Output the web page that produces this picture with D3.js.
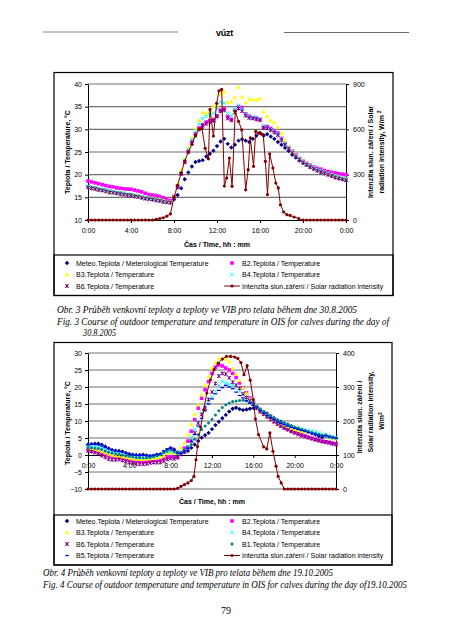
<!DOCTYPE html>
<html><head><meta charset="utf-8">
<script src="https://cdn.jsdelivr.net/npm/d3@7"></script>
<style>
body{margin:0;background:#fff}
svg{display:block}
text{font-family:"Liberation Sans",Arial,sans-serif}
text.serif{font-family:"Liberation Serif","Times New Roman",serif}
</style>
</head><body>
<svg id="c" width="452" height="640"></svg>
<script>
// ---------- DATA ----------
const xTickLabels = ["0:00","4:00","8:00","12:00","16:00","20:00","0:00"];
const xTickMinutes = [0,240,480,720,960,1200,1440];
const times = d3.range(0, 1441, 20); // sample times in minutes (every 20 min)

// Fig. 3 — 30.8.2005
const meteo1 = [17.3,17.1,17.0,16.8,16.7,16.5,16.3,16.2,16.0,15.9,15.8,15.6,
 15.5,15.4,15.2,15.0,14.9,14.8,14.6,14.5,14.4,14.2,14.0,13.9,
 14.5,15.5,17.0,19.0,20.5,21.8,22.8,23.0,23.2,24.0,24.6,25.3,
 26.3,27.3,27.9,26.8,26.0,26.6,27.5,27.8,27.5,27.2,27.9,28.6,
 29.2,28.6,28.9,28.4,27.9,27.2,26.6,25.9,25.2,24.4,23.8,23.1,
 22.6,22.1,21.7,21.3,20.9,20.6,20.3,20.0,19.7,19.4,19.2,19.0,
 18.8];
const b2_1 = [18.6,18.4,18.2,18.0,17.8,17.6,17.4,17.3,17.1,17.0,16.9,16.8,
 16.8,16.6,16.4,16.2,15.9,15.6,15.5,15.4,15.2,14.9,14.6,14.3,
 15.2,17.4,20.2,22.8,25.2,27.3,29.0,30.3,31.0,31.6,31.9,32.1,
 33.0,34.2,34.5,32.8,32.2,34.2,35.0,34.8,33.4,32.9,32.6,32.5,
 32.2,30.5,30.6,30.2,29.7,29.2,28.0,27.0,26.0,25.2,24.4,23.6,
 23.0,22.5,22.1,21.7,21.4,21.2,20.9,20.7,20.5,20.4,20.2,20.1,
 20.0];
const b3_1 = [17.4,17.2,17.0,16.9,16.7,16.5,16.4,16.2,16.1,15.9,15.8,15.7,
 15.6,15.5,15.3,15.2,15.0,14.9,14.8,14.6,14.5,14.3,14.1,14.0,
 15.3,18.0,21.0,23.5,26.0,28.2,30.2,32.0,33.8,33.5,34.0,35.0,
 35.4,37.8,38.2,36.0,36.1,37.0,39.3,37.2,35.9,36.6,36.6,36.5,
 36.8,33.9,32.9,32.0,31.5,30.5,29.2,27.5,26.2,25.2,24.4,23.6,
 23.0,22.4,21.9,21.5,21.1,20.8,20.5,20.2,19.9,19.7,19.5,19.3,
 19.1];
const b4_1 = [17.5,17.3,17.1,16.9,16.8,16.6,16.4,16.3,16.1,16.0,15.9,15.7,
 15.6,15.5,15.3,15.1,15.0,14.8,14.7,14.5,14.4,14.2,14.0,13.9,
 15.0,17.6,20.5,23.2,25.6,27.8,29.6,31.2,32.4,32.8,33.2,33.6,
 34.5,36.0,35.8,33.5,33.0,34.5,35.3,34.5,33.3,32.8,32.7,32.6,
 32.4,30.8,30.4,30.0,29.6,29.0,28.0,26.9,26.0,25.0,24.2,23.5,
 22.9,22.4,22.0,21.6,21.2,20.9,20.6,20.3,20.0,19.8,19.5,19.3,
 19.1];
const b6_1 = [17.2,17.0,16.8,16.6,16.5,16.3,16.1,16.0,15.9,15.7,15.6,15.5,
 15.4,15.2,15.1,14.9,14.7,14.6,14.5,14.3,14.2,14.0,13.9,13.8,
 15.0,17.2,20.2,22.8,25.0,27.0,28.6,30.0,30.8,31.2,31.5,31.9,
 32.8,34.0,34.2,32.4,32.0,33.8,34.6,34.0,33.0,32.5,32.4,32.2,
 32.0,30.3,30.2,29.8,29.3,28.7,27.6,26.6,25.7,24.8,24.0,23.3,
 22.7,22.2,21.7,21.3,20.9,20.6,20.3,20.0,19.7,19.4,19.2,19.0,
 18.8];
const solar1Times = [0,20,40,60,80,100,120,140,160,180,200,220,240,260,280,300,320,340,360,
 380,400,420,440,460,480,500,520,540,560,580,600,620,636,654,672,681,700,718,731,746,761,774,789,804,
 822,840,858,880,894,906,924,936,951,966,978,990,1002,1014,1032,1048,1062,1074,1092,1110,1128,1150,1176,1200,
 1220,1240,1260,1280,1300,1320,1340,1360,1380,1400,1420,1440];
const solar1 = [0,0,0,0,0,0,0,0,0,0,0,0,0,0,0,0,0,0,0,
 5,10,15,25,40,150,230,310,390,450,500,560,600,606,474,405,732,556,772,855,864,225,278,410,223,
 719,653,597,200,333,543,355,587,575,570,565,388,168,437,344,245,212,101,53,35,30,20,10,0,
 0,0,0,0,0,0,0,0,0,0,0,0];

// Fig. 4 — 19.10.2005
const meteo2 = [3.1,3.2,3.3,3.3,3.0,2.5,1.9,1.5,1.3,1.2,1.0,0.6,
 0.3,0.1,0.0,0.0,0.1,-0.1,-0.3,-0.2,0.1,0.2,0.8,1.5,
 2.0,1.6,0.8,0.7,0.9,1.2,2.1,3.1,4.1,5.1,5.8,6.5,
 7.6,8.8,9.8,10.8,11.8,12.8,13.6,13.9,13.5,13.2,13.4,13.6,
 13.8,13.7,13.2,12.6,12.2,11.5,10.8,10.2,9.8,9.3,8.9,8.5,
 8.1,7.8,7.4,7.1,6.8,6.4,6.0,5.6,5.2,5.8,5.4,5.1,
 4.9];
const b2_2 = [1.6,1.4,1.2,0.9,0.6,0.2,-0.2,-0.5,-0.7,-0.8,-1.0,-1.2,
 -1.5,-1.7,-1.8,-1.9,-2.0,-2.0,-1.8,-1.6,-1.6,-1.5,-1.0,-0.6,
 -0.5,-0.6,-0.8,0.5,2.0,4.1,7.0,10.4,13.8,16.7,19.2,21.6,
 24.0,25.8,26.5,26.2,25.6,25.0,24.0,22.8,21.2,19.8,18.3,16.8,
 15.5,14.2,13.0,12.0,11.2,10.5,9.9,9.2,8.6,8.1,7.6,7.1,
 6.7,6.3,5.9,5.6,5.2,4.9,4.6,4.3,4.0,3.9,3.7,3.5,
 3.3];
const b3_2 = [2.0,1.9,1.7,1.4,1.1,0.7,0.3,0.0,-0.2,-0.3,-0.5,-0.7,
 -0.9,-1.1,-1.2,-1.3,-1.3,-1.2,-1.1,-1.0,-0.9,-0.7,-0.2,0.4,
 0.8,0.5,0.6,2.1,3.6,6.0,9.0,11.9,14.8,17.7,20.6,23.1,
 25.6,27.2,28.3,28.5,28.2,27.4,25.5,23.7,22.0,19.8,18.2,16.5,
 15.0,13.8,12.8,12.0,11.3,10.7,10.1,9.5,9.0,8.6,8.2,7.8,
 7.5,7.2,7.0,6.9,6.8,6.7,6.6,6.3,6.0,5.7,5.4,5.1,
 4.8];
const b4_2 = [2.9,2.8,2.7,2.6,2.3,1.9,1.4,1.0,0.8,0.7,0.5,0.2,
 -0.1,-0.3,-0.4,-0.5,-0.5,-0.6,-0.6,-0.4,-0.2,0.0,0.6,1.0,
 1.2,0.8,0.3,0.7,1.4,2.5,5.1,7.5,9.9,12.4,14.3,15.8,
 17.0,18.8,20.5,21.6,21.2,20.8,20.5,19.8,18.8,17.8,16.8,16.0,
 15.3,14.3,13.3,12.5,11.8,11.1,10.5,9.9,9.4,9.0,8.7,8.4,
 8.1,7.8,7.6,7.4,7.2,7.0,6.9,6.5,6.1,5.8,5.6,5.4,
 5.2];
const b6_2 = [1.2,1.0,0.7,0.4,-0.2,-0.7,-1.2,-1.4,-1.4,-1.3,-1.6,-1.9,
 -2.2,-2.4,-2.6,-2.7,-2.7,-2.6,-2.3,-2.2,-2.2,-2.2,-1.8,-1.3,
 -1.0,-1.1,-0.6,0.2,0.9,2.2,4.1,6.5,9.4,11.9,13.8,16.3,
 18.5,21.0,23.2,24.0,23.8,22.7,21.4,20.5,19.6,18.0,16.9,16.0,
 15.0,13.8,12.7,12.0,11.3,10.5,9.8,9.1,8.5,7.9,7.4,6.9,
 6.5,6.1,5.7,5.4,5.1,4.8,4.5,4.2,4.0,3.8,3.6,3.3,
 3.1];
const b1_2 = [2.1,2.1,2.0,1.9,1.6,1.2,0.8,0.6,0.4,0.2,0.0,-0.2,
 -0.4,-0.6,-0.7,-0.8,-0.8,-0.8,-0.7,-0.5,-0.2,0.2,0.8,1.2,
 1.5,1.0,0.5,0.6,1.5,2.2,3.1,4.6,6.0,7.5,8.5,9.4,
 10.5,11.8,13.0,14.0,14.8,15.3,15.7,15.9,16.0,16.1,15.9,15.6,
 15.0,14.3,13.6,12.9,12.2,11.5,10.9,10.2,9.7,9.3,8.9,8.5,
 8.1,7.8,7.5,7.2,6.9,6.6,6.3,6.0,5.7,5.5,5.3,5.1,
 4.9];
const b5_2 = [3.0,3.2,3.1,3.0,2.7,2.2,1.8,1.4,1.1,1.0,0.8,0.5,
 0.2,0.0,-0.1,-0.2,-0.1,-0.2,-0.3,-0.1,0.2,0.4,1.2,1.8,
 2.2,1.4,0.6,0.5,1.2,2.0,4.0,6.0,8.5,10.8,13.0,15.0,
 16.5,18.0,19.0,19.8,20.5,20.0,19.5,18.5,17.5,16.8,16.0,15.2,
 14.6,13.9,13.0,12.3,11.6,11.0,10.4,9.8,9.3,8.9,8.5,8.1,
 7.8,7.5,7.2,6.9,6.6,6.4,6.2,5.9,5.6,5.8,5.5,5.2,
 5.0];
const solar2Times = [0,20,40,60,80,100,120,140,160,180,200,220,240,260,280,300,320,340,360,380,400,420,440,460,480,500,
 520,540,560,580,600,615,627,636,654,672,690,711,732,756,780,804,828,852,870,888,906,924,942,960,972,990,1020,1038,1056,1074,1092,1104,1122,1140,
 1160,1180,1200,1220,1240,1260,1280,1300,1320,1340,1360,1380,1400,1420,1440];
const solar2 = [0,0,0,0,0,0,0,0,0,0,0,0,0,0,0,0,0,0,0,0,0,0,0,0,0,0,
 2,8,13,18,25,37,86,125,182,233,282,321,351,370,382,390,390,388,384,372,336,363,320,263,206,160,124,118,165,111,67,37,18,0,
 0,0,0,0,0,0,0,0,0,0,0,0,0,0,0];

const labels = {
  meteo: "Meteo.Teplota / Meterological Temperature",
  b1: "B1.Teplota / Temperature", b2: "B2.Teplota / Temperature", b3: "B3.Teplota / Temperature",
  b4: "B4.Teplota / Temperature", b5: "B5.Teplota / Temperature", b6: "B6.Teplota / Temperature",
  solar: "Intenzita slun.záření / Solar radiation intensity"
};
const colors = {meteo:"#000080", b1:"#008080", b2:"#ff00ff", b3:"#ffff00", b4:"#00ffff", b5:"#0000ff", b6:"#800080", solar:"#800000"};

// ---------- DRAWING ----------
const svg = d3.select("#c");
const FONT = 7;

function symPath(type, x, y){
  const s = 2.2;
  switch(type){
    case "diamond": return `M${x},${y-s}L${x+s},${y}L${x},${y+s}L${x-s},${y}Z`;
    case "square": return `M${x-1.8},${y-1.8}h3.6v3.6h-3.6Z`;
    case "triangle": return `M${x},${y-2.3}L${x+2.2},${y+1.7}L${x-2.2},${y+1.7}Z`;
    case "x": return `M${x-1.8},${y-1.8}L${x+1.8},${y+1.8}M${x-1.8},${y+1.8}L${x+1.8},${y-1.8}`;
    case "star": return `M${x-1.8},${y-1.8}L${x+1.8},${y+1.8}M${x-1.8},${y+1.8}L${x+1.8},${y-1.8}M${x},${y-2}L${x},${y+2}`;
    case "circle": return `M${x-1.5},${y}a1.5,1.5 0 1,0 3,0a1.5,1.5 0 1,0 -3,0`;
    case "dash": return `M${x-1.8},${y}L${x+1.8},${y}`;
  }
}
const stroked = {x:true, star:true, dash:true};
function drawSym(g, type, x, y, color){
  const p = g.append("path").attr("d", symPath(type, x, y));
  if (stroked[type]) p.attr("fill","none").attr("stroke",color).attr("stroke-width", type==="dash"?1.3:1);
  else p.attr("fill",color);
}

function drawChart(o){
  const g = svg.append("g");
  const x = d3.scaleLinear().domain([0,1440]).range([o.l,o.r]);
  const y = d3.scaleLinear().domain(o.yDom).range([o.b,o.t]);
  const y2 = d3.scaleLinear().domain(o.y2Dom).range([o.b,o.t]);

  // frame + legend box
  g.append("rect").attr("x",o.frame[0]).attr("y",o.frame[1]).attr("width",o.frame[2]).attr("height",o.frame[3])
    .attr("fill","none").attr("stroke","#000").attr("stroke-width",1.2);
  g.append("rect").attr("x",o.leg[0]).attr("y",o.leg[1]).attr("width",o.leg[2]).attr("height",o.leg[3])
    .attr("fill","none").attr("stroke","#000").attr("stroke-width",1.2);

  // gridlines
  g.selectAll("line.grid").data(o.grid).join("line").attr("class","grid")
    .attr("x1",o.l).attr("x2",o.r).attr("y1",d=>y(d)).attr("y2",d=>y(d))
    .attr("stroke","#707070").attr("stroke-width",1.1);

  // axes
  const ax = g.append("g").attr("transform",`translate(${o.l},0)`)
    .call(d3.axisLeft(y).tickValues(o.yTicks).tickSize(3).tickSizeOuter(0).tickPadding(3));
  const ax2 = g.append("g").attr("transform",`translate(${o.r},0)`)
    .call(d3.axisRight(y2).tickValues(o.y2Ticks).tickSize(3).tickSizeOuter(0).tickPadding(4));
  const axx = g.append("g").attr("transform",`translate(0,${y(o.xAt)})`)
    .call(d3.axisBottom(x).tickValues(xTickMinutes).tickSize(3).tickSizeOuter(0)
      .tickFormat((d,i)=>xTickLabels[i]));
  axx.selectAll("text").attr("y", o.xLabDy);
  [ax,ax2,axx].forEach(a=>{
    a.selectAll("text").attr("font-size",FONT).attr("fill","#000");
    a.selectAll("line").attr("stroke","#000");
    a.select(".domain").attr("stroke","#000");
  });

  // temperature series
  o.series.forEach(s=>{
    const sg = g.append("g");
    s.vals.forEach((v,i)=> drawSym(sg, s.type, x(times[i]), y(v), colors[s.key]));
  });
  // solar
  const pts = o.solarT.map((t,i)=>[t,o.solarV[i]]);
  g.append("path").attr("d", d3.line().x(d=>x(d[0])).y(d=>y2(d[1]))(pts))
    .attr("fill","none").attr("stroke",colors.solar).attr("stroke-width",1);
  g.selectAll("circle.sol").data(pts).join("circle").attr("class","sol")
    .attr("cx",d=>x(d[0])).attr("cy",d=>y2(d[1])).attr("r",1.6).attr("fill",colors.solar);

  // axis titles
  g.append("text").attr("x",o.xTitle[0]).attr("y",o.xTitle[1]).attr("text-anchor","middle")
    .attr("font-size",FONT).attr("font-weight","bold").text("Čas / Time, hh : mm");
  g.append("text").attr("transform",`translate(${o.yTitle[0]},${o.yTitle[1]}) rotate(-90)`).attr("text-anchor","middle")
    .attr("font-size",FONT).attr("font-weight","bold").text(o.yTitleText);
  o.y2Title.forEach(t=>{
    const tx = g.append("text").attr("transform",`translate(${t.x},${t.y}) rotate(-90)`).attr("text-anchor","middle")
      .attr("font-size",FONT).attr("font-weight","bold");
    tx.append("tspan").text(t.text);
    if (t.sup) tx.append("tspan").attr("dy",-2.5).attr("font-size",5).text(t.sup);
  });

  // legend
  o.legendItems.forEach(it=>{
    const mx = it.col===0 ? 67 : 232, tx = it.col===0 ? 76 : 242;
    const ly = o.legRows[it.row];
    if (it.key==="solar"){
      g.append("line").attr("x1",224).attr("x2",240).attr("y1",ly).attr("y2",ly).attr("stroke",colors.solar).attr("stroke-width",1);
      g.append("circle").attr("cx",232).attr("cy",ly).attr("r",1.6).attr("fill",colors.solar);
    } else {
      drawSym(g, it.type, mx, ly, colors[it.key]);
    }
    g.append("text").attr("x",tx).attr("y",ly+2.5).attr("font-size",FONT).text(labels[it.key]);
  });
}

// header
svg.append("line").attr("x1",43).attr("x2",178).attr("y1",32).attr("y2",32).attr("stroke","#666").attr("stroke-width",0.8);
svg.append("line").attr("x1",284).attr("x2",409).attr("y1",32.5).attr("y2",32.5).attr("stroke","#444").attr("stroke-width",0.8);
svg.append("text").attr("x",224.5).attr("y",35.5).attr("text-anchor","middle").attr("font-size",9).attr("font-weight","bold")
  .attr("letter-spacing",-0.3).text("vúzt");

// Chart 1
drawChart({
  frame:[54,72.5,339,223], leg:[54,255,339,40.5],
  l:88, r:346, t:84, b:220,
  yDom:[10,40], y2Dom:[0,900], yTicks:[10,15,20,25,30,35,40], y2Ticks:[0,300,600,900],
  grid:[15,20,25,30,35,40], xAt:10, xLabDy:8,
  series:[
    {key:"meteo", type:"diamond", vals:meteo1},
    {key:"b2", type:"square", vals:b2_1},
    {key:"b3", type:"triangle", vals:b3_1},
    {key:"b4", type:"x", vals:b4_1},
    {key:"b6", type:"star", vals:b6_1}
  ],
  solarT:solar1Times, solarV:solar1,
  xTitle:[217,246.5], yTitle:[69.5,152], yTitleText:"Teplota / Temperature, °C",
  y2Title:[{x:372.5,y:152,text:"Intenzita slun. záření  / Solar"},{x:383.5,y:152,text:"radiation intensity, W/m ",sup:"2"}],
  legRows:[263,274.5,286],
  legendItems:[
    {key:"meteo",type:"diamond",col:0,row:0},{key:"b2",type:"square",col:1,row:0},
    {key:"b3",type:"triangle",col:0,row:1},{key:"b4",type:"x",col:1,row:1},
    {key:"b6",type:"star",col:0,row:2},{key:"solar",col:1,row:2}
  ]
});

// Chart 2
drawChart({
  frame:[54,342.5,338,222.5], leg:[54,515,338,50],
  l:88, r:336, t:353, b:489,
  yDom:[-10,30], y2Dom:[0,400], yTicks:[-10,-5,0,5,10,15,20,25,30], y2Ticks:[0,100,200,300,400],
  grid:[-10,-5,5,10,15,20,25,30], xAt:0, xLabDy:8,
  series:[
    {key:"meteo", type:"diamond", vals:meteo2},
    {key:"b2", type:"square", vals:b2_2},
    {key:"b3", type:"triangle", vals:b3_2},
    {key:"b4", type:"x", vals:b4_2},
    {key:"b6", type:"star", vals:b6_2},
    {key:"b1", type:"circle", vals:b1_2},
    {key:"b5", type:"dash", vals:b5_2}
  ],
  solarT:solar2Times, solarV:solar2,
  xTitle:[212,504], yTitle:[69.5,423], yTitleText:"Teplota  / Temperature, °C",
  y2Title:[{x:362,y:417,text:"Intenzita slun. záření /"},{x:373,y:412,text:"Solar radiation intensity,"},{x:384,y:421,text:"W/m",sup:"2"}],
  legRows:[521,532.5,544,555.5],
  legendItems:[
    {key:"meteo",type:"diamond",col:0,row:0},{key:"b2",type:"square",col:1,row:0},
    {key:"b3",type:"triangle",col:0,row:1},{key:"b4",type:"x",col:1,row:1},
    {key:"b6",type:"star",col:0,row:2},{key:"b1",type:"circle",col:1,row:2},
    {key:"b5",type:"dash",col:0,row:3},{key:"solar",col:1,row:3}
  ]
});

// captions
const cap = [
  {x:57,y:313,w:300,t:"Obr. 3  Průběh venkovní teploty a teploty  ve VIB  pro telata během dne 30.8.2005"},
  {x:57,y:324.5,w:332,t:"Fig. 3  Course of outdoor temperature and temperature in OIS for calves during the day of"},
  {x:83,y:336,w:33,t:"30.8.2005"},
  {x:43,y:576,w:290,t:"Obr. 4 Průběh venkovní teploty a teploty ve VIB pro telata během dne 19.10.2005"},
  {x:43,y:587.5,w:364,t:"Fig. 4 Course of outdoor temperature and temperature in OIS for calves during the day of19.10.2005"}
];
cap.forEach(c=>{
  svg.append("text").attr("class","serif").attr("x",c.x).attr("y",c.y)
    .style("font-style","italic").style("font-size","9.5px")
    .attr("textLength",c.w).attr("lengthAdjust","spacingAndGlyphs").text(c.t);
});
svg.append("text").attr("class","serif").attr("x",226).attr("y",614).attr("text-anchor","middle")
  .style("font-size","10px").text("79");
</script>
</body></html>
